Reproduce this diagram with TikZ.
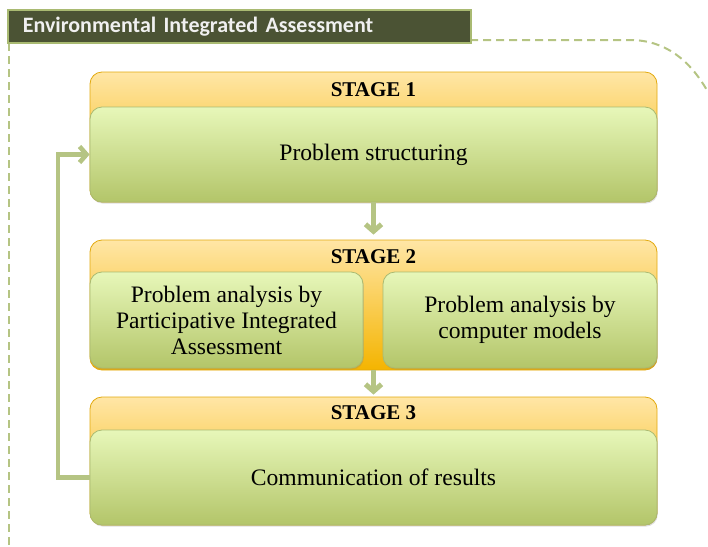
\documentclass[tikz,border=0pt]{standalone}
\usepackage{fontspec}
\setmainfont{Liberation Serif}
\newfontfamily\titlefont{Carlito}
\usetikzlibrary{arrows.meta,shadows}

\definecolor{stagetop}{HTML}{FFE6A6}
\definecolor{stagebot}{HTML}{F4B400}
\definecolor{stageline}{HTML}{E2A90E}
\definecolor{tasktop}{HTML}{E7F7B9}
\definecolor{taskbot}{HTML}{B3C569}
\definecolor{taskline}{HTML}{A9BA72}
\definecolor{flowgreen}{HTML}{B5C483}
\definecolor{titlefill}{HTML}{4B5334}

\tikzset{
    stage/.style={draw=stageline, rounded corners=6pt, top color=stagetop,
        bottom color=stagebot, minimum width=283.5pt, inner sep=0pt},
    stagelabel/.style={font=\fontsize{10.5}{12}\selectfont\bfseries},
    task/.style={draw=taskline, rounded corners=6pt, top color=tasktop,
        bottom color=taskbot, minimum height=47.5pt, align=center,
        font=\fontsize{11.8}{13}\selectfont,
        drop shadow={opacity=0.25, shadow xshift=0.4pt, shadow yshift=-0.8pt}},
    flow/.style={line width=2.5pt, draw=flowgreen,
        -{Straight Barb[length=3.5pt,width=8pt]}},
    frame/.style={draw=flowgreen, line width=1pt, dash pattern=on 4pt off 2.5pt},
}

\begin{document}
\begin{tikzpicture}[x=0.5pt, y=-0.5pt]
\useasboundingbox (0,0) rectangle (708,547);
% dashed frame
\draw[frame] (9,43) -- (9,547);
\draw[frame] (470,40) -- (630,40) .. controls (665,40) and (690,60) .. (708,92);
% title
\node[draw=taskline, line width=0.8pt, fill=titlefill, anchor=west,
      minimum height=16.5pt, inner xsep=7.5pt, text width=216.5pt,
      font=\titlefont\fontsize{11}{12}\selectfont\bfseries, text=white!94!black]
      (title) at (7,26.5) {Environmental Integrated Assessment};
% stage 1
\node[stage, minimum height=65pt] (s1) at (373.5,137) {};
\node[stagelabel] (s1lab) at (373.5,90) {STAGE 1};
\node[task, minimum width=283.5pt] (s1body) at (373.5,154.5) {Problem structuring};
% stage 2
\node[stage, minimum height=65pt] (s2) at (373.5,305) {};
\node[stagelabel] (s2lab) at (373.5,257) {STAGE 2};
\node[task, minimum width=136.5pt, minimum height=48pt] (s2left) at (226.5,320)
    {Problem analysis by\\ Participative Integrated\\ Assessment};
\node[task, minimum width=137pt, minimum height=48pt] (s2right) at (520,320)
    {Problem analysis by\\ computer models};
% stage 3
\node[stage, minimum height=64pt] (s3) at (373.5,461) {};
\node[stagelabel] (s3lab) at (373.5,413) {STAGE 3};
\node[task, minimum width=283.5pt] (s3body) at (373.5,477.5) {Communication of results};
% connectors
\draw[flow, shorten >=2.5pt] (s1body.south) -- (s2.north);
\draw[flow, shorten >=1pt] (s2.south) -- (s3.north);
\coordinate (back) at (58,0);
\draw[flow, line width=2.3pt] (s3body.west) -| (back |- s3body.west) |- (s1body.west);
\end{tikzpicture}
\end{document}
